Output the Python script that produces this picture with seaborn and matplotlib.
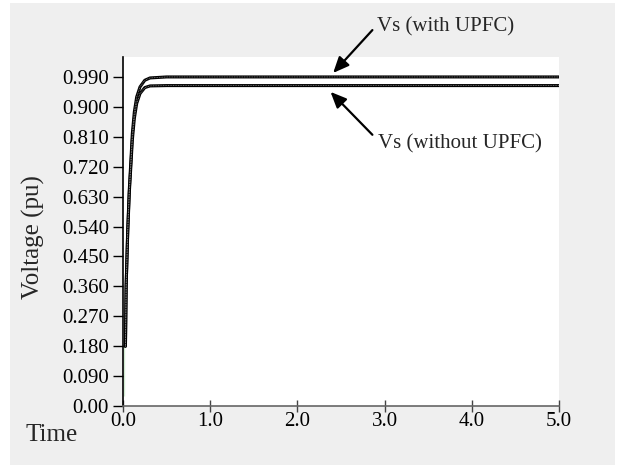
import matplotlib
matplotlib.use("Agg")
import matplotlib.pyplot as plt
import seaborn as sns
import pandas as pd
from matplotlib.patches import Rectangle

sns.set_theme(style="white")
plt.rcParams['font.family'] = ['Liberation Serif', 'DejaVu Serif']

# data
t_with = [0.025, 0.028, 0.036, 0.054, 0.072, 0.092, 0.107, 0.13, 0.157, 0.195, 0.25, 0.31, 0.5, 5.0]
v_with = [0.18, 0.18, 0.36, 0.53, 0.65, 0.746, 0.82, 0.885, 0.93, 0.96, 0.98, 0.987, 0.99, 0.99]
t_without = [0.025, 0.028, 0.036, 0.054, 0.072, 0.092, 0.107, 0.13, 0.157, 0.195, 0.25, 0.31, 0.5, 5.0]
v_without = [0.18, 0.18, 0.36, 0.52, 0.64, 0.73, 0.80, 0.865, 0.91, 0.94, 0.958, 0.963, 0.964, 0.964]
t_init = [0.014, 0.014]
v_init = [0.03, 0.18]
y_ticks = [0.0, 0.09, 0.18, 0.27, 0.36, 0.45, 0.54, 0.63, 0.72, 0.81, 0.90, 0.99]
y_tick_labels = ["0.00", "0.090", "0.180", "0.270", "0.360", "0.450", "0.540",
                 "0.630", "0.720", "0.810", "0.900", "0.990"]
x_ticks = [0.0, 1.0, 2.0, 3.0, 4.0, 5.0]
x_tick_labels = ["0.0", "1.0", "2.0", "3.0", "4.0", "5.0"]

df_with = pd.DataFrame({"t": t_with, "v": v_with})
df_without = pd.DataFrame({"t": t_without, "v": v_without})
df_init = pd.DataFrame({"t": t_init, "v": v_init})

fig = plt.figure(figsize=(6.21, 4.66), dpi=100, facecolor="white")
fig.patches.append(Rectangle((10/621, 1/466), 605/621, 462/466, transform=fig.transFigure,
                             facecolor="#efefef", edgecolor="none", zorder=-10))
ax = fig.add_axes([123/621, 1 - 406/466, 436/621, 349/466])
ax.set_facecolor("white")

for d in (df_with, df_without):
    sns.lineplot(data=d, x="t", y="v", ax=ax, color="black", lw=2.2, zorder=3)
    sns.lineplot(data=d, x="t", y="v", ax=ax, color="#8a8a8a", lw=0.6,
                 linestyle=(0, (1, 1)), zorder=4)
sns.lineplot(data=df_init, x="t", y="v", ax=ax, color="#1aa01a", lw=1.5, zorder=5)

ax.set_xlim(0, 5.0)
ax.set_ylim(0, 1.05)
ax.set_yticks(y_ticks)
ax.set_yticklabels(y_tick_labels)
ax.set_xticks(x_ticks)
ax.set_xticklabels(x_tick_labels)
ax.tick_params(axis="y", direction="out", length=7, width=1, color="black",
               labelsize=15, pad=3, left=True, labelcolor="black")
ax.tick_params(axis="x", direction="inout", length=8, width=1, color="#444444",
               labelsize=15, pad=0, bottom=True, labelcolor="black")
for s in ("top", "right"):
    ax.spines[s].set_visible(False)
ax.spines["left"].set_color("black")
ax.spines["left"].set_linewidth(1.2)
ax.spines["bottom"].set_color("#666666")
ax.spines["bottom"].set_linewidth(1.2)
ax.set_xlabel("")
ax.set_ylabel("")
ax.grid(False)

fig.text(33/621, 1 - 237/466, "Voltage (pu)", fontsize=18, rotation=90,
         ha="center", va="center")
fig.text(26/621, 1 - 435/466, "Time", fontsize=18, ha="left", va="center")

arrow = dict(arrowstyle="-|>,head_length=0.8,head_width=0.35", color="black", lw=1.6,
             shrinkA=0, shrinkB=0)
ax.annotate("", xy=(2.41, 1.002), xytext=(2.86, 1.131), arrowprops=arrow,
            annotation_clip=False)
ax.text(2.91, 1.14, "Vs (with UPFC)", fontsize=15, ha="left", va="center", clip_on=False)
ax.annotate("", xy=(2.38, 0.945), xytext=(2.86, 0.816), arrowprops=arrow,
            annotation_clip=False)
ax.text(2.93, 0.788, "Vs (without UPFC)", fontsize=15, ha="left", va="center")

fig.savefig("out.png", dpi=100, facecolor="white")
